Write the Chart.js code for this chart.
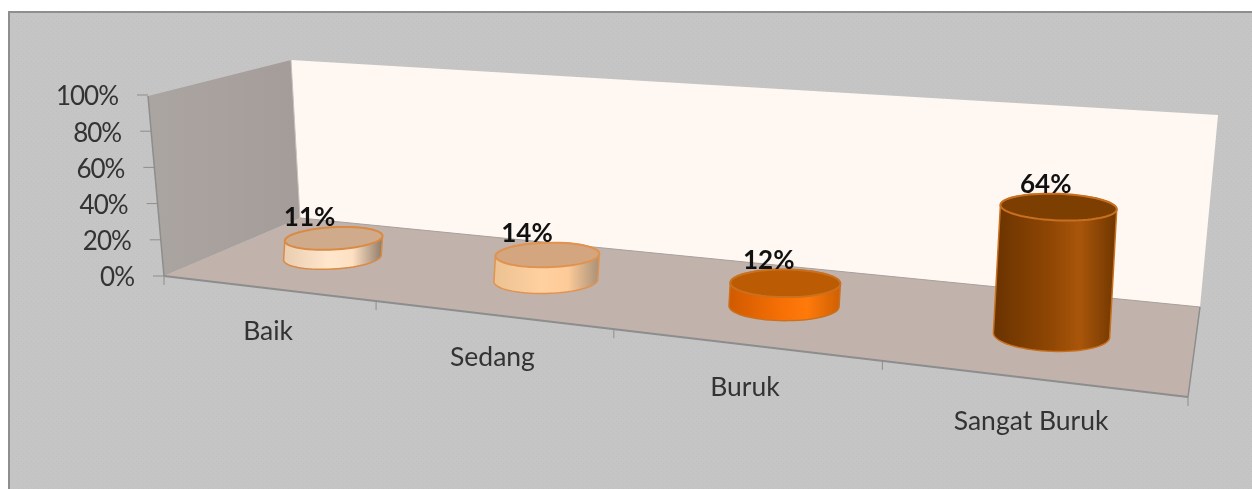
<!DOCTYPE html>
<html>
<head>
<meta charset="utf-8">
<style>
  html, body { margin: 0; padding: 0; background: #fff; }
  canvas { display: block; filter: blur(0.5px); }
</style>
<script src="https://cdn.jsdelivr.net/npm/chart.js@4"></script>
</head>
<body>
<canvas id="chart" width="1252" height="489"></canvas>
<script>
// Data
const categories = ["Baik", "Sedang", "Buruk", "Sangat Buruk"];
const percentValues = [11, 14, 12, 64];
const tickValues = [0, 20, 40, 60, 80, 100];

// Cylinder colours, one entry per category
const topColors = ["#cfab8b", "#d3a67f", "#bb5b03", "#7d3e02"];
const rimColors = ["#d98b45", "#e09350", "#c9711f", "#c8701f"];
const sideStops = [
  ["#e9cdb0", "#ffe6cc", "#fde0c2", "#8f7b6a"],
  ["#ecc293", "#ffd0a0", "#fdcb98", "#a89078"],
  ["#d05a00", "#f56f05", "#ff7a0a", "#cf6004"],
  ["#6a3300", "#8e4604", "#a9560a", "#6f3600"],
];

// The 3D box, as seen on screen
const floorQuad = [[300, 218], [1200, 307], [1188, 397], [164, 276]];
const roofQuad = [[291, 60], [1218, 115], [1213, 182], [148, 96]];

function quadMap(q) {
  const [[x0, y0], [x1, y1], [x2, y2], [x3, y3]] = q;
  const dx1 = x1 - x2, dx2 = x3 - x2, sx = x0 - x1 + x2 - x3;
  const dy1 = y1 - y2, dy2 = y3 - y2, sy = y0 - y1 + y2 - y3;
  const det = dx1 * dy2 - dx2 * dy1;
  const g = (sx * dy2 - dx2 * sy) / det;
  const h = (dx1 * sy - sx * dy1) / det;
  const a = x1 - x0 + g * x1, b = x3 - x0 + h * x3;
  const d = y1 - y0 + g * y1, e = y3 - y0 + h * y3;
  return (u, v) => {
    const w = g * u + h * v + 1;
    return [(a * u + b * v + x0) / w, (d * u + e * v + y0) / w];
  };
}
const onFloor = quadMap(floorQuad);
const onRoof = quadMap(roofQuad);

// u: along the category axis, v: depth (0 back, 1 front), f: height 0..1
function project(u, v, f) {
  const p = onFloor(u, v), q = onRoof(u, v);
  return [p[0] + (q[0] - p[0]) * f, p[1] + (q[1] - p[1]) * f];
}

function hull(points) {
  const pts = points.slice().sort((a, b) => a[0] - b[0] || a[1] - b[1]);
  const cross = (o, a, b) => (a[0] - o[0]) * (b[1] - o[1]) - (a[1] - o[1]) * (b[0] - o[0]);
  const half = (list) => {
    const out = [];
    list.forEach((p) => {
      while (out.length > 1 && cross(out[out.length - 2], out[out.length - 1], p) <= 0) out.pop();
      out.push(p);
    });
    out.pop();
    return out;
  };
  return half(pts).concat(half(pts.slice().reverse()));
}

function fillPoly(ctx, pts, color) {
  ctx.beginPath();
  pts.forEach((p, i) => (i ? ctx.lineTo(p[0], p[1]) : ctx.moveTo(p[0], p[1])));
  ctx.closePath();
  ctx.fillStyle = color;
  ctx.fill();
}

function strokeLine(ctx, a, b, color, width) {
  ctx.beginPath();
  ctx.moveTo(a[0], a[1]);
  ctx.lineTo(b[0], b[1]);
  ctx.strokeStyle = color;
  ctx.lineWidth = width;
  ctx.stroke();
}

function dotPattern(ctx) {
  const c = document.createElement("canvas");
  c.width = c.height = 5;
  const p = c.getContext("2d");
  p.fillStyle = "#c5c5c5";
  p.fillRect(0, 0, 5, 5);
  p.fillStyle = "#bfbfbf";
  p.fillRect(1, 1, 1, 1);
  p.fillRect(3, 3, 1, 1);
  return ctx.createPattern(c, "repeat");
}

const boxPlugin = {
  id: "box3d",
  beforeDraw(chart) {
    const ctx = chart.ctx;
    const yScale = chart.scales.y;
    ctx.save();
    ctx.fillStyle = "#fff";
    ctx.fillRect(0, 0, chart.width, chart.height);
    ctx.fillStyle = dotPattern(ctx);
    ctx.fillRect(9, 13, chart.width - 9, chart.height - 13);
    ctx.fillStyle = "#8e8e8e";
    ctx.fillRect(8, 11, chart.width - 8, 2);
    ctx.fillRect(8, 11, 2, chart.height - 11);

    // back wall
    fillPoly(ctx, [roofQuad[0], roofQuad[1], floorQuad[1], floorQuad[0]], "#fff7f1");
    // left wall
    const wall = ctx.createLinearGradient(148, 0, 300, 0);
    wall.addColorStop(0, "#aba5a2");
    wall.addColorStop(1, "#a49c99");
    fillPoly(ctx, [roofQuad[3], roofQuad[0], floorQuad[0], floorQuad[3]], wall);
    // floor
    fillPoly(ctx, floorQuad, "#c1b3ac");

    strokeLine(ctx, floorQuad[0], floorQuad[1], "#a8a29e", 1);
    strokeLine(ctx, roofQuad[0], floorQuad[0], "#c8c4c0", 1);
    strokeLine(ctx, floorQuad[3], floorQuad[2], "#8d8d8d", 2);
    strokeLine(ctx, floorQuad[1], floorQuad[2], "#8d8d8d", 1.5);
    strokeLine(ctx, roofQuad[3], floorQuad[3], "#8d8d8d", 1.5);

    // value axis ticks and labels lean with the wall edge
    ctx.textBaseline = "middle";
    ctx.textAlign = "right";
    ctx.font = "26px Lato";
    ctx.letterSpacing = "-1px";
    yScale.ticks.forEach((t) => {
      const py = yScale.getPixelForValue(t.value);
      const x = project(0, 1, t.value / 100)[0];
      strokeLine(ctx, [x - 11, py], [x, py], "#8d8d8d", 1);
      ctx.fillStyle = "#333";
      ctx.fillText(t.label, x - 30, py + 2);
    });
    ctx.letterSpacing = "0px";
    strokeLine(ctx, floorQuad[3], [floorQuad[3][0], floorQuad[3][1] + 9], "#8d8d8d", 1);

    // category axis ticks and labels follow the front floor edge
    const n = categories.length;
    for (let i = 1; i <= n; i++) {
      const p = project(i / n, 1, 0);
      strokeLine(ctx, p, [p[0], p[1] + 9], "#8d8d8d", 1);
    }
    ctx.textAlign = "center";
    ctx.font = "26.5px Lato";
    categories.forEach((name, i) => {
      const p = project((i + 0.5) / n, 1, 0);
      ctx.fillStyle = "#333";
      ctx.fillText(name, p[0] + 1, p[1] + 43);
    });
    ctx.restore();
  },
  afterDatasetsDraw(chart) {
    const ctx = chart.ctx;
    const area = chart.chartArea;
    const bars = chart.getDatasetMeta(0).data;
    const steps = 72;
    const depth = 0.19;
    const mid = 0.53;

    ctx.save();
    bars.forEach((bar, i) => {
      const u = (bar.x - area.left) / (area.right - area.left);
      const ru = bar.width / 2 / (area.right - area.left);
      const f = (bar.base - bar.y) / (area.bottom - area.top);
      // width grows a little towards the viewer, the tilt changes with the view angle
      const rx = (bar.width / 2) * (0.84 + 0.22 * u);
      const tilt = -0.065 + 0.115 * u;
      const floorLeft = project(u - ru, mid, 0), floorRight = project(u + ru, mid, 0);
      const floorX = (floorLeft[0] + floorRight[0]) / 2 + 1 + 2 * u;
      const ring = (height) => {
        const cy = project(u, mid, height)[1];
        const ry = (project(u, mid + depth, height)[1] - project(u, mid - depth, height)[1]) / 2;
        const cx = floorX + 11 * height;
        const pts = [];
        for (let k = 0; k < steps; k++) {
          const t = (k / steps) * Math.PI * 2;
          const ex = rx * Math.cos(t);
          pts.push([cx + ex, cy + ex * tilt + ry * Math.sin(t)]);
        }
        return pts;
      };

      const top = ring(f);
      const body = hull(ring(0).concat(top));
      const xs = body.map((p) => p[0]);
      const xMin = Math.min(...xs), xMax = Math.max(...xs);
      const side = ctx.createLinearGradient(xMin, 0, xMax, 0);
      sideStops[i].forEach((c, k) => side.addColorStop([0, 0.45, 0.7, 1][k], c));

      fillPoly(ctx, body, side);
      ctx.strokeStyle = rimColors[i];
      ctx.lineWidth = 1.5;
      ctx.stroke();

      fillPoly(ctx, top, topColors[i]);
      ctx.strokeStyle = rimColors[i];
      ctx.lineWidth = 2;
      ctx.stroke();

      // data label sits over the back of the top face, pulled to the left
      const topY = Math.min(...top.map((p) => p[1]));
      const cx = top.reduce((s, p) => s + p[0], 0) / top.length;
      ctx.font = "bold 26px Lato";
      ctx.textAlign = "center";
      ctx.textBaseline = "middle";
      ctx.fillStyle = "#111";
      ctx.fillText(percentValues[i] + "%", cx - 26 + 15 * u, topY - 9);
    });
    ctx.restore();
  },
};

new Chart(document.getElementById("chart"), {
  type: "bar",
  data: {
    labels: categories,
    datasets: [
      {
        data: percentValues,
        backgroundColor: "transparent",
        categoryPercentage: 1,
        barPercentage: 0.44,
      },
    ],
  },
  options: {
    responsive: false,
    animation: false,
    events: [],
    layout: { padding: { left: 164, right: 64, top: 95, bottom: 213 } },
    plugins: { legend: { display: false }, tooltip: { enabled: false } },
    scales: {
      x: { display: false },
      y: {
        display: false,
        min: 0,
        max: 100,
        afterBuildTicks(axis) {
          axis.ticks = tickValues.map((v) => ({ value: v }));
        },
        ticks: { callback: (v) => v + "%" },
      },
    },
  },
  plugins: [boxPlugin],
});
</script>
</body>
</html>
